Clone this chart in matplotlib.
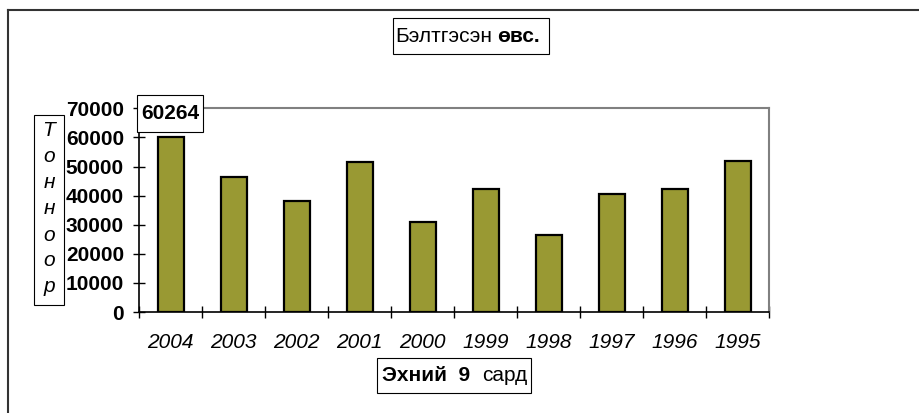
import matplotlib
matplotlib.use('Agg')
import matplotlib.pyplot as plt
from matplotlib.patches import Rectangle
from matplotlib.lines import Line2D
import numpy as np

plt.rcParams['font.family'] = ['Liberation Sans', 'DejaVu Sans']

# data
years = ['2004', '2003', '2002', '2001', '2000', '1999', '1998', '1997', '1996', '1995']
tons = [60264, 46400, 38200, 51500, 30800, 42200, 26300, 40500, 42100, 52000]
ylabel_letters = ['Т', 'о', 'н', 'н', 'о', 'о', 'р']

W, H = 920, 413
FS = 15
fig = plt.figure(figsize=(W / 100, H / 100), dpi=100)


def fx(x):
    return x / W


def fy(y):
    return 1 - y / H


def box(x0, y0, x1, y1, color='black', lw=0.8):
    fig.add_artist(Rectangle((fx(x0), fy(y1)), fx(x1) - fx(x0), fy(y0) - fy(y1),
                             transform=fig.transFigure, fill=True, facecolor='white',
                             edgecolor=color, linewidth=lw, zorder=5))


# outer frame, only top and left visible
fig.add_artist(Line2D([fx(8), 1], [fy(10), fy(10)], transform=fig.transFigure, color='#333333', lw=1.5))
fig.add_artist(Line2D([fx(8), fx(8)], [fy(10), 0], transform=fig.transFigure, color='#333333', lw=1.5))

ax = fig.add_axes([fx(139.3), fy(312), fx(769.3) - fx(139.3), fy(108.3) - fy(312)])
x = np.arange(len(years))
ax.bar(x, tons, width=0.41, color='#999933', edgecolor='black', linewidth=1.6, zorder=3)
ax.set_xlim(-0.5, len(years) - 0.5)
ax.set_ylim(0, 70000)
ax.set_yticks(np.arange(0, 70001, 10000))
ax.set_yticklabels([str(v) for v in range(0, 70001, 10000)], fontsize=FS, fontweight='bold')
ax.set_xticks(np.arange(-0.5, len(years), 1), minor=False)
ax.set_xticklabels([])
ax.set_xticks(x, minor=True)
ax.set_xticklabels(years, minor=True, fontsize=FS, fontstyle='italic')
ax.tick_params(axis='x', which='minor', length=0, pad=15)
ax.tick_params(axis='x', which='major', direction='inout', length=8, width=1)
ax.tick_params(axis='y', direction='inout', length=8, width=1, pad=7)
for s in ['top', 'right']:
    ax.spines[s].set_color('#808080')
    ax.spines[s].set_linewidth(1.5)
for s in ['left', 'bottom']:
    ax.spines[s].set_color('black')
    ax.spines[s].set_linewidth(1.2)

# value label for the first bar
box(137, 95, 203, 132)
fig.text(fx(170), fy(113.5), str(tons[0]), ha='center', va='center', fontsize=FS,
         fontweight='bold', zorder=6)

# title
box(393, 18, 549, 54)
fig.text(fx(492), fy(36), 'Бэлтгэсэн', ha='right', va='center', fontsize=FS, zorder=6)
fig.text(fx(497), fy(36), 'өвс.', ha='left', va='center', fontsize=FS, fontweight='bold', zorder=6)

# x label
box(377, 358, 531, 393)
fig.text(fx(382), fy(375.5), 'Эхний  9', ha='left', va='center', fontsize=FS, fontweight='bold', zorder=6)
fig.text(fx(482), fy(375.5), 'сард', ha='left', va='center', fontsize=FS, zorder=6)

# y label, stacked letters
box(34, 115, 64, 305)
for i, ch in enumerate(ylabel_letters):
    fig.text(fx(49), fy(131 + i * 26), ch, ha='center', va='center', fontsize=FS,
             fontstyle='italic', zorder=6)

fig.savefig('out.png', dpi=100)
